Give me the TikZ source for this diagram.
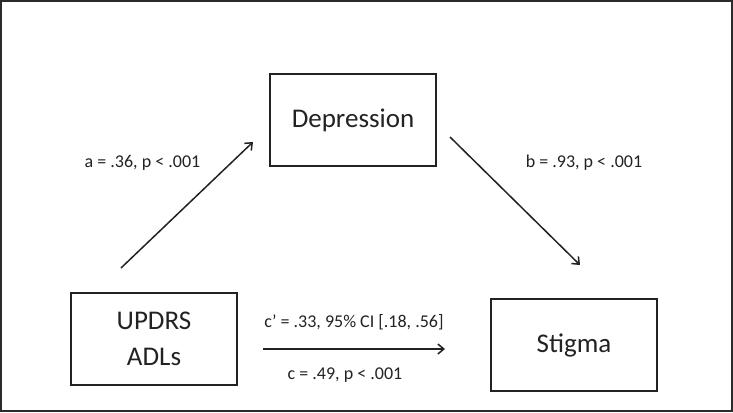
\documentclass[tikz,border=0pt]{standalone}
\usepackage{fontspec}
\setmainfont{Carlito}
\usetikzlibrary{arrows.meta}
\definecolor{ink}{HTML}{222222}
\definecolor{frame}{HTML}{2B2B2B}
\begin{document}
\begin{tikzpicture}[x=1pt,y=-1pt,
  varbox/.style={draw=ink,line width=1.6pt,minimum width=166pt,minimum height=92pt,inner sep=0pt,align=center,font=\fontsize{27}{36}\selectfont,text=ink},
  coef/.style={font=\fontsize{18}{22}\selectfont,text=ink,inner sep=0pt},
  path/.style={draw=ink,line width=1.5pt,-{Straight Barb[length=6pt,width=10pt,line width=1.5pt]}}]
\useasboundingbox (0,0) rectangle (733,412);
\draw[frame,line width=2.4pt] (1.2,1.2) rectangle (731.8,410.8);
\node[varbox] (dep) at (353,120) {Depression};
\node[varbox] (upd) at (154,339) {UPDRS\\ADLs};
\node[varbox] (stg) at (574,345) {Stigma};
\coordinate (a1) at (121,268);
\coordinate (a2) at (253,142);
\coordinate (b1) at (450,137);
\coordinate (b2) at (580,265);
\coordinate (c1) at (263,349);
\coordinate (c2) at (445,349);
\draw[path] (a1) -- (a2);
\draw[path] (b1) -- (b2);
\draw[path] (c1) -- (c2);
\node[coef] (la) at (142.5,163) {a = .36, p < .001};
\node[coef] (lb) at (584,163) {b = .93, p < .001};
\node[coef] (lcp) at (354,322) {c’ = .33, 95\% CI [.18, .56]};
\node[coef] (lc) at (345,375) {c = .49, p < .001};
\end{tikzpicture}
\end{document}
